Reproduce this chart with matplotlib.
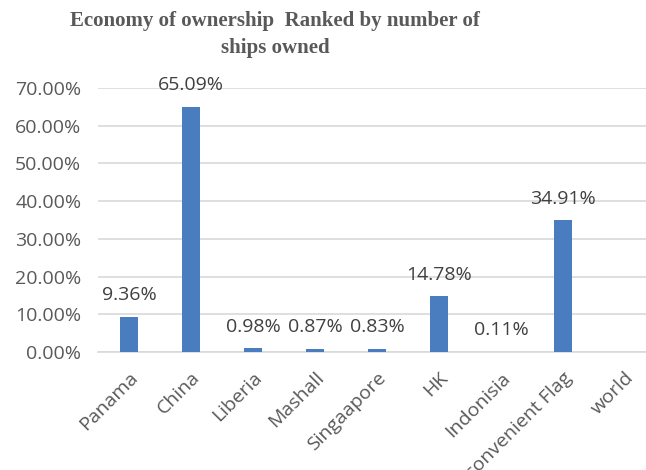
import matplotlib
matplotlib.use("Agg")
import matplotlib.pyplot as plt
import numpy as np

categories = ["Panama", "China", "Liberia", "Mashall", "Singaapore", "HK",
              "Indonisia", "convenient Flag", "world"]
values = [9.36, 65.09, 0.98, 0.87, 0.83, 14.78, 0.11, 34.91, np.nan]
yticks = [0, 10, 20, 30, 40, 50, 60, 70]

fig = plt.figure(figsize=(6.46, 4.70), dpi=100)
ax = fig.add_axes([98/646, (470-352)/470, 558/646, 264/470])

x = np.arange(len(categories))
bar_color = "#4A7DBF"
ax.bar(x, [0 if np.isnan(v) else v for v in values], width=0.3, color=bar_color, zorder=3)

fs = 14
for xi, v in zip(x, values):
    if np.isnan(v):
        continue
    ax.annotate(f"{v:.2f}%", (xi, v), xytext=(0, 9), textcoords="offset points",
                ha="center", va="bottom", fontsize=fs, color="#404040",
                family="Open Sans", zorder=4)

ax.set_xlim(-0.5, len(categories) - 0.5)
ax.set_ylim(0, 70)
ax.set_yticks(yticks)
ax.set_yticklabels([f"{t:.2f}%" for t in yticks], family="Open Sans", fontsize=fs, color="#595959")
ax.set_xticks(x)
ax.set_xticklabels(categories, rotation=45, ha="right", rotation_mode="anchor",
                   family="Open Sans", fontsize=fs, color="#595959")
ax.tick_params(axis="both", length=0)
ax.tick_params(axis="y", pad=12)
ax.tick_params(axis="x", pad=12)
ax.grid(axis="y", color="#D9D9D9", linewidth=1.2, zorder=0)
for s in ["top", "right", "left"]:
    ax.spines[s].set_visible(False)
ax.spines["bottom"].set_color("#D9D9D9")
ax.spines["bottom"].set_linewidth(1.2)

fig.text(0.426, 0.976, "Economy of ownership  Ranked by number of\nships owned",
         ha="center", va="top", family="Liberation Serif", fontweight="bold",
         fontsize=15, color="#595959", linespacing=1.45)

fig.savefig("out.png", dpi=100)
